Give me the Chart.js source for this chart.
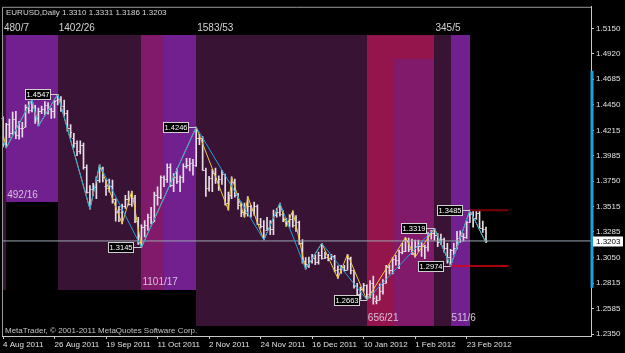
<!DOCTYPE html>
<html>
<head>
<meta charset="utf-8">
<script src="https://cdn.jsdelivr.net/npm/chart.js@4.4.1/dist/chart.umd.min.js"></script>
<style>
  html, body { margin: 0; padding: 0; background: #000; }
  #wrap { width: 625px; height: 353px; }
</style>
</head>
<body>
<div id="wrap"><canvas id="chart" width="625" height="353"></canvas></div>
<script>
(function () {
  "use strict";

  /* EURUSD daily, 4 Aug 2011 .. 2 Mar 2012 (one entry per bar, index 0 = 4 Aug) */
  var dateTickIdx = [0, 16, 32, 48, 64, 80, 96, 112, 128, 144];
  var dateTickLabels = ["4 Aug 2011", "26 Aug 2011", "19 Sep 2011", "11 Oct 2011", "2 Nov 2011",
    "24 Nov 2011", "16 Dec 2011", "10 Jan 2012", "1 Feb 2012", "23 Feb 2012"];
  var priceTicks = [1.5150, 1.4920, 1.4685, 1.4450, 1.4215, 1.3985, 1.3750, 1.3515,
    1.3285, 1.3050, 1.2815, 1.2585, 1.2350];

  var opens = [1.4330, 1.4090, 1.4275, 1.4190, 1.4320, 1.4170, 1.4235, 1.4250, 1.4430, 1.4405,
    1.4435, 1.4330, 1.4390, 1.4410, 1.4445, 1.4410, 1.4390, 1.4495, 1.4500, 1.4440,
    1.4375, 1.4240, 1.4150, 1.4100, 1.4030, 1.4085, 1.3880, 1.3650, 1.3680, 1.3700,
    1.3760, 1.3870, 1.3710, 1.3690, 1.3710, 1.3585, 1.3470, 1.3470, 1.3520, 1.3590,
    1.3540, 1.3600, 1.3390, 1.3190, 1.3335, 1.3350, 1.3420, 1.3380, 1.3620, 1.3610,
    1.3790, 1.3770, 1.3880, 1.3720, 1.3790, 1.3750, 1.3790, 1.3890, 1.3900, 1.3915,
    1.3900, 1.4150, 1.4145, 1.3855, 1.3690, 1.3780, 1.3830, 1.3740, 1.3770, 1.3815,
    1.3550, 1.3620, 1.3745, 1.3620, 1.3530, 1.3465, 1.3455, 1.3520, 1.3490, 1.3520,
    1.3360, 1.3340, 1.3300, 1.3320, 1.3315, 1.3440, 1.3470, 1.3450, 1.3400, 1.3390,
    1.3400, 1.3350, 1.3380, 1.3180, 1.3020, 1.2990, 1.3020, 1.3045, 1.3010, 1.3070,
    1.3050, 1.3060, 1.3050, 1.3065, 1.2940, 1.2945, 1.2960, 1.2940, 1.3050, 1.2935,
    1.2790, 1.2720, 1.2760, 1.2795, 1.2715, 1.2815, 1.2650, 1.2665, 1.2740, 1.2820,
    1.2960, 1.2935, 1.3040, 1.3025, 1.3105, 1.3115, 1.3215, 1.3130, 1.3080, 1.3160,
    1.3155, 1.3155, 1.3145, 1.3265, 1.3280, 1.3255, 1.3195, 1.3220, 1.3135, 1.3060,
    1.3120, 1.3135, 1.3230, 1.3245, 1.3240, 1.3375, 1.3450, 1.3415, 1.3455, 1.3325,
    1.3310];
  var highs = [1.4340, 1.4280, 1.4320, 1.4385, 1.4390, 1.4300, 1.4290, 1.4450, 1.4480, 1.4500,
    1.4445, 1.4420, 1.4440, 1.4480, 1.4470, 1.4420, 1.4495, 1.4547, 1.4525, 1.4495,
    1.4400, 1.4270, 1.4190, 1.4120, 1.4120, 1.4100, 1.3900, 1.3710, 1.3730, 1.3790,
    1.3900, 1.3880, 1.3760, 1.3770, 1.3760, 1.3590, 1.3520, 1.3540, 1.3620, 1.3660,
    1.3660, 1.3620, 1.3420, 1.3350, 1.3390, 1.3450, 1.3510, 1.3650, 1.3700, 1.3800,
    1.3800, 1.3910, 1.3910, 1.3820, 1.3865, 1.3800, 1.3910, 1.3960, 1.3960, 1.3950,
    1.4246, 1.4180, 1.4160, 1.3870, 1.3795, 1.3860, 1.3870, 1.3800, 1.3850, 1.3815,
    1.3650, 1.3790, 1.3770, 1.3640, 1.3560, 1.3550, 1.3610, 1.3530, 1.3560, 1.3535,
    1.3410, 1.3390, 1.3420, 1.3390, 1.3485, 1.3500, 1.3550, 1.3480, 1.3410, 1.3445,
    1.3480, 1.3435, 1.3385, 1.3215, 1.3050, 1.3055, 1.3080, 1.3075, 1.3100, 1.3181,
    1.3100, 1.3080, 1.3080, 1.3070, 1.2975, 1.2980, 1.2980, 1.3080, 1.3055, 1.2935,
    1.2815, 1.2780, 1.2815, 1.2800, 1.2840, 1.2880, 1.2700, 1.2810, 1.2850, 1.2980,
    1.2985, 1.3050, 1.3070, 1.3120, 1.3180, 1.3235, 1.3230, 1.3220, 1.3210, 1.3210,
    1.3190, 1.3165, 1.3280, 1.3300, 1.3319, 1.3270, 1.3265, 1.3230, 1.3180, 1.3125,
    1.3180, 1.3290, 1.3295, 1.3270, 1.3385, 1.3485, 1.3480, 1.3480, 1.3480, 1.3385,
    1.3331];
  var lows = [1.4065, 1.4055, 1.4150, 1.4180, 1.4140, 1.4135, 1.4155, 1.4245, 1.4375, 1.4385,
    1.4280, 1.4256, 1.4370, 1.4360, 1.4365, 1.4325, 1.4330, 1.4450, 1.4390, 1.4350,
    1.4210, 1.4150, 1.4060, 1.3985, 1.4000, 1.3860, 1.3640, 1.3495, 1.3620, 1.3590,
    1.3740, 1.3745, 1.3620, 1.3650, 1.3550, 1.3385, 1.3380, 1.3360, 1.3500, 1.3530,
    1.3520, 1.3370, 1.3170, 1.3145, 1.3240, 1.3300, 1.3360, 1.3380, 1.3530, 1.3590,
    1.3700, 1.3740, 1.3700, 1.3655, 1.3730, 1.3655, 1.3740, 1.3870, 1.3845, 1.3805,
    1.3885, 1.4085, 1.3850, 1.3610, 1.3660, 1.3655, 1.3730, 1.3665, 1.3720, 1.3530,
    1.3485, 1.3590, 1.3605, 1.3495, 1.3425, 1.3420, 1.3430, 1.3420, 1.3440, 1.3355,
    1.3320, 1.3212, 1.3300, 1.3260, 1.3260, 1.3420, 1.3430, 1.3380, 1.3335, 1.3330,
    1.3330, 1.3290, 1.3170, 1.3000, 1.2945, 1.2960, 1.3000, 1.2985, 1.2990, 1.3035,
    1.3040, 1.3020, 1.3030, 1.2920, 1.2860, 1.2905, 1.2925, 1.2935, 1.2900, 1.2770,
    1.2710, 1.2670, 1.2735, 1.2663, 1.2680, 1.2624, 1.2625, 1.2660, 1.2715, 1.2815,
    1.2900, 1.2900, 1.2980, 1.2950, 1.3085, 1.3105, 1.3105, 1.3080, 1.3055, 1.3110,
    1.3060, 1.3040, 1.3110, 1.3220, 1.3210, 1.3150, 1.3170, 1.3100, 1.3000, 1.2974,
    1.3080, 1.3130, 1.3190, 1.3200, 1.3225, 1.3370, 1.3330, 1.3400, 1.3320, 1.3280,
    1.3186];
  var closes = [1.4090, 1.4275, 1.4190, 1.4320, 1.4170, 1.4235, 1.4240, 1.4430, 1.4405, 1.4435,
    1.4330, 1.4390, 1.4410, 1.4445, 1.4410, 1.4390, 1.4490, 1.4500, 1.4440, 1.4375,
    1.4240, 1.4200, 1.4100, 1.4030, 1.4085, 1.3880, 1.3650, 1.3680, 1.3700, 1.3760,
    1.3870, 1.3790, 1.3690, 1.3710, 1.3585, 1.3470, 1.3500, 1.3520, 1.3590, 1.3540,
    1.3600, 1.3390, 1.3190, 1.3335, 1.3350, 1.3420, 1.3380, 1.3620, 1.3610, 1.3790,
    1.3770, 1.3880, 1.3720, 1.3790, 1.3750, 1.3790, 1.3890, 1.3900, 1.3915, 1.3900,
    1.4150, 1.4145, 1.3855, 1.3690, 1.3780, 1.3830, 1.3780, 1.3770, 1.3815, 1.3550,
    1.3620, 1.3745, 1.3620, 1.3530, 1.3465, 1.3455, 1.3520, 1.3490, 1.3520, 1.3360,
    1.3340, 1.3240, 1.3320, 1.3315, 1.3440, 1.3470, 1.3450, 1.3400, 1.3390, 1.3400,
    1.3350, 1.3380, 1.3180, 1.3020, 1.2990, 1.3020, 1.3045, 1.3010, 1.3070, 1.3050,
    1.3060, 1.3050, 1.3065, 1.2940, 1.2945, 1.2960, 1.2940, 1.3050, 1.2935, 1.2790,
    1.2720, 1.2760, 1.2795, 1.2715, 1.2815, 1.2680, 1.2665, 1.2740, 1.2820, 1.2960,
    1.2935, 1.3040, 1.3025, 1.3105, 1.3115, 1.3215, 1.3130, 1.3080, 1.3160, 1.3155,
    1.3155, 1.3145, 1.3265, 1.3280, 1.3255, 1.3195, 1.3220, 1.3135, 1.3060, 1.3120,
    1.3135, 1.3230, 1.3245, 1.3240, 1.3375, 1.3450, 1.3415, 1.3455, 1.3325, 1.3310,
    1.3203];

  /* zigzag turning points: bar index / price */
  var blueIdx = [-6, 1, 9, 11, 17, 27, 30, 43, 60, 81, 86, 94, 99, 113, 134, 139, 145, 150];
  var bluePrice = [1.4535, 1.4055, 1.4500, 1.4256, 1.4547, 1.3495, 1.3900, 1.3145, 1.4246, 1.3212,
    1.3550, 1.2945, 1.3181, 1.2663, 1.3319, 1.2974, 1.3485, 1.3186];
  var yellowIdx = [-2, 1, 9, 11, 17, 27, 30, 37, 40, 43, 60, 70, 71, 75, 76, 81, 86, 88, 90, 94,
    99, 104, 107, 113, 125, 128, 134, 139, 145, 150];
  var yellowPrice = [1.4440, 1.4055, 1.4500, 1.4256, 1.4547, 1.3495, 1.3900, 1.3360, 1.3660, 1.3145,
    1.4246, 1.3485, 1.3790, 1.3420, 1.3610, 1.3212, 1.3550, 1.3335, 1.3480, 1.2945,
    1.3181, 1.2860, 1.3080, 1.2663, 1.3235, 1.3055, 1.3319, 1.2974, 1.3485, 1.3186];

  /* swing boxes (bar index span, price span) and their pips/bars captions */
  var zoneFrom = [-6, 1, 17, 43, 60, 113, 134, 139];
  var zoneTo = [1, 17, 43, 60, 113, 134, 139, 145];
  var zoneTop = [1.5091, 1.5091, 1.5091, 1.5087, 1.5087, 1.5087, 1.5087, 1.5087];
  var zoneBottom = [1.2756, 1.3556, 1.2756, 1.2756, 1.2426, 1.2426, 1.2426, 1.2426];
  var zoneKind = ["dark", "purple", "dark", "purple", "dark", "red", "dark", "purple"];
  var zoneLabels = ["480/7", "492/16", "1402/26", "1101/17", "1583/53", "656/21", "345/5", "511/6"];
  var patchFrom = [43, 121.5];
  var patchTo = [50, 134];
  var patchTop = [1.5087, 1.4870];
  var patchBottom = [1.2756, 1.2426];
  var patchKind = ["mixed", "mixed"];

  var markIdx = [17, 43, 60, 113, 134, 139, 145];
  var markPrice = [1.4547, 1.3145, 1.4246, 1.2663, 1.3319, 1.2974, 1.3485];

  var levelPrice = [1.3485, 1.2974];
  var levelFrom = [145, 139];
  var levelTo = [157, 157];

  var lastPrice = 1.3203;
  var rangeBarTop = 1.4762;
  var rangeBarBottom = 1.2774;

  var FONT = "'Liberation Sans', Arial, sans-serif";
  var ink = "#e0e0e0";
  var zoneColors = { dark: "#391334", purple: "#72208f", red: "#94154c", mixed: "#821a6c" };

  function points(idx, vals) {
    return idx.map(function (x, i) { return { x: x, y: vals[i] }; });
  }

  function fillBox(ctx, xs, ys, i0, i1, p0, p1, style) {
    var x0 = xs.getPixelForValue(i0), x1 = xs.getPixelForValue(i1);
    var y0 = ys.getPixelForValue(p0), y1 = ys.getPixelForValue(p1);
    ctx.fillStyle = style;
    ctx.fillRect(Math.round(x0), Math.round(y0), Math.round(x1) - Math.round(x0), Math.round(y1) - Math.round(y0));
  }

  var overlay = {
    id: "mtOverlay",
    beforeDatasetsDraw: function (chart) {
      var ctx = chart.ctx, a = chart.chartArea;
      var xs = chart.scales.x, ys = chart.scales.y;
      ctx.save();
      ctx.beginPath();
      ctx.rect(a.left, a.top, a.right - a.left, a.bottom - a.top);
      ctx.clip();
      zoneFrom.forEach(function (f, i) {
        fillBox(ctx, xs, ys, f, zoneTo[i], zoneTop[i], zoneBottom[i], zoneColors[zoneKind[i]]);
      });
      patchFrom.forEach(function (f, i) {
        fillBox(ctx, xs, ys, f, patchTo[i], patchTop[i], patchBottom[i], zoneColors[patchKind[i]]);
      });
      ctx.restore();
    },
    afterDatasetDraw: function (chart, args) {
      if (args.index !== 0) return;
      // open / close ticks on the OHLC bars
      var ctx = chart.ctx, xs = chart.scales.x, ys = chart.scales.y;
      ctx.save();
      ctx.fillStyle = "#e8dde6";
      opens.forEach(function (o, i) {
        var x = xs.getPixelForValue(i);
        ctx.fillRect(x - 1.5, Math.round(ys.getPixelForValue(o)), 1, 1);
        ctx.fillRect(x + 0.5, Math.round(ys.getPixelForValue(closes[i])), 1, 1);
      });
      ctx.restore();
    },
    afterDatasetsDraw: function (chart) {
      var ctx = chart.ctx, a = chart.chartArea;
      var xs = chart.scales.x, ys = chart.scales.y;
      ctx.save();

      // frame (top and left edges)
      ctx.strokeStyle = "#9a9a9a";
      ctx.lineWidth = 1;
      ctx.beginPath();
      ctx.moveTo(a.left + 0.5, a.bottom);
      ctx.lineTo(a.left + 0.5, a.top + 0.5);
      ctx.lineTo(a.right, a.top + 0.5);
      ctx.stroke();

      // swing captions
      ctx.textBaseline = "middle";
      ctx.textAlign = "left";
      ctx.font = "10px " + FONT;
      zoneLabels.forEach(function (label, i) {
        var x = Math.max(xs.getPixelForValue(zoneFrom[i]), a.left + 1);
        if (zoneKind[i] !== "dark") {
          ctx.fillStyle = "#d6c2dc";
          ctx.fillText(label, x + 1, ys.getPixelForValue(zoneBottom[i]) - 7.5);
        } else {
          ctx.fillStyle = "#d4d4d4";
          ctx.fillText(label, x + 1, ys.getPixelForValue(zoneTop[i]) - 7);
        }
      });

      // swing price boxes
      ctx.font = "7.5px " + FONT;
      ctx.textAlign = "center";
      markIdx.forEach(function (idx, i) {
        var px = xs.getPixelForValue(idx), py = Math.round(ys.getPixelForValue(markPrice[i])) + 0.5;
        var bw = 25, bx = Math.round(px - 8 - bw) + 0.5;
        ctx.strokeStyle = "#cfcfcf";
        ctx.beginPath();
        ctx.moveTo(bx + bw, py);
        ctx.lineTo(px, py);
        ctx.stroke();
        ctx.fillStyle = "#000";
        ctx.fillRect(bx, py - 5, bw, 10);
        ctx.strokeRect(bx, py - 5, bw, 10);
        ctx.fillStyle = "#ffffff";
        ctx.fillText(markPrice[i].toFixed(4), bx + bw / 2, py + 0.5);
      });

      // header and footer text
      ctx.textAlign = "left";
      ctx.fillStyle = "#d8d8d8";
      ctx.font = "8px " + FONT;
      ctx.fillText("EURUSD,Daily", a.left + 4, a.top + 6);
      ctx.fillText("1.3310 1.3331 1.3186 1.3203", a.left + 60, a.top + 6);
      ctx.fillStyle = "#c4c4c4";
      ctx.fillText("MetaTrader, \u00a9 2001-2011 MetaQuotes Software Corp.", a.left + 3, a.bottom - 5);
      ctx.restore();
    },
    afterDraw: function (chart) {
      var ctx = chart.ctx, a = chart.chartArea, ys = chart.scales.y;
      ctx.save();
      // range bar on the price axis
      var t = ys.getPixelForValue(rangeBarTop), b = ys.getPixelForValue(rangeBarBottom);
      ctx.fillStyle = "#18a2e2";
      ctx.fillRect(a.right - 0.5, t, 3, b - t);
      // last price tag
      var py = Math.round(ys.getPixelForValue(lastPrice));
      ctx.fillStyle = "#ffffff";
      ctx.fillRect(a.right + 2, py - 4.5, 30, 10);
      ctx.fillStyle = "#000";
      ctx.font = "8px " + FONT;
      ctx.textAlign = "left";
      ctx.textBaseline = "middle";
      ctx.fillText(lastPrice.toFixed(4), a.right + 5, py + 0.5);
      ctx.restore();
    },
  };

  var barData = highs.map(function (h, i) { return { x: i, y: [lows[i], h] }; });

  var xMin = (2 - 3) / 3.22;
  var xMax = (591 - 3) / 3.22;
  var yMax = 1.5150 + 22 / 1107.1;
  var yMin = 1.5150 - 312 / 1107.1;

  new Chart(document.getElementById("chart"), {
    type: "line",
    data: {
      datasets: [
        { type: "bar", data: barData, backgroundColor: "#e8dde6", barThickness: 1, borderWidth: 0, order: 5 },
        { data: [{ x: -2, y: lastPrice }, { x: 200, y: lastPrice }], borderColor: "#9aa6b0", borderWidth: 1, pointRadius: 0, order: 4 },
        { data: points(yellowIdx, yellowPrice), borderColor: "#e8c840", borderWidth: 1, pointRadius: 0, tension: 0, order: 3 },
        { data: points(blueIdx, bluePrice), borderColor: "#22a0e0", borderWidth: 1, pointRadius: 0, tension: 0, order: 2 },
        { data: [{ x: levelFrom[0], y: levelPrice[0] }, { x: levelTo[0], y: levelPrice[0] }], borderColor: "#7a0008", borderWidth: 2, pointRadius: 0, order: 1 },
        { data: [{ x: levelFrom[1], y: levelPrice[1] }, { x: levelTo[1], y: levelPrice[1] }], borderColor: "#e00010", borderWidth: 1.5, pointRadius: 0, order: 1 },
      ],
    },
    options: {
      responsive: false,
      animation: false,
      events: [],
      layout: { autoPadding: false, padding: { left: 2, top: 2, right: 0, bottom: 0 } },
      plugins: { legend: { display: false }, tooltip: { enabled: false } },
      scales: {
        x: {
          type: "linear", min: xMin, max: xMax, offset: false,
          afterBuildTicks: function (s) { s.ticks = dateTickIdx.map(function (v) { return { value: v }; }); },
          afterFit: function (s) { s.height = 17; },
          grid: { display: true, drawOnChartArea: false, drawTicks: true, tickLength: 3, color: "#c8c8c8", offset: false },
          border: { display: true, color: "#c8c8c8" },
          ticks: {
            autoSkip: false, maxRotation: 0, minRotation: 0, align: "start", padding: 1,
            color: ink, font: { family: FONT, size: 8 },
            callback: function (v, i) { return dateTickLabels[i]; },
          },
        },
        y: {
          type: "linear", position: "right", min: yMin, max: yMax,
          afterBuildTicks: function (s) { s.ticks = priceTicks.map(function (v) { return { value: v }; }); },
          afterFit: function (s) { s.width = 34; },
          grid: { display: true, drawOnChartArea: false, drawTicks: true, tickLength: 3, color: "#c8c8c8" },
          border: { display: true, color: "#c8c8c8" },
          ticks: {
            padding: 2, color: ink, font: { family: FONT, size: 8 },
            callback: function (v) { return Number(v).toFixed(4); },
          },
        },
      },
    },
    plugins: [overlay],
  });
})();
</script>
</body>
</html>
